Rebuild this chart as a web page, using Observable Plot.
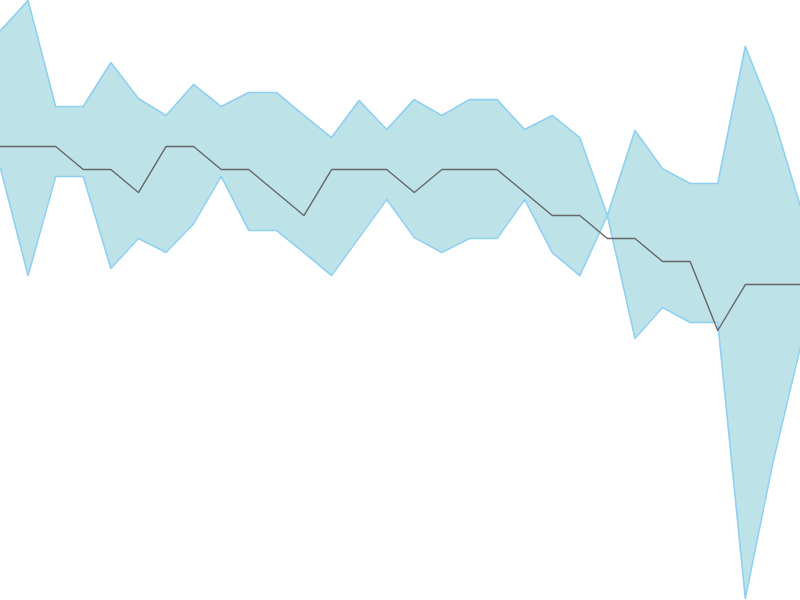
<!DOCTYPE html>
<html>
<head>
<meta charset="utf-8">
<script src="https://cdn.jsdelivr.net/npm/d3@7"></script>
<script src="https://cdn.jsdelivr.net/npm/@observablehq/plot@0.6"></script>
<style>
  html, body { margin: 0; padding: 0; background: #fff; }
  #chart svg { display: block; }
</style>
</head>
<body>
<div id="chart"></div>
<script>
const upper = [25.04, 26.35, 21.74, 21.74, 23.65, 22.09, 21.35, 22.70, 21.74, 22.35,
               22.35, 21.35, 20.39, 22.00, 20.74, 22.04, 21.35, 22.04, 22.04, 20.74,
               21.35, 20.39, 17.00, 20.70, 19.04, 18.39, 18.39, 24.35, 21.35, 17.39];
const lower = [19.04, 14.39, 18.70, 18.70, 14.70, 16.00, 15.39, 16.65, 18.70, 16.35,
               16.35, 15.39, 14.39, 16.04, 17.70, 16.04, 15.39, 16.00, 16.00, 17.70,
               15.39, 14.39, 17.00, 11.65, 13.00, 12.35, 12.35, 0.35, 6.26, 11.30];
const middle = [20, 20, 20, 19, 19, 18, 20, 20, 19, 19,
                18, 17, 19, 19, 19, 18, 19, 19, 19, 18,
                17, 17, 16, 16, 15, 15, 12, 14, 14, 14];

const data = upper.map((u, i) => ({i, upper: u, lower: lower[i], middle: middle[i]}));

const chart = Plot.plot({
  width: 800,
  height: 600,
  margin: 0,
  x: {domain: [0, data.length - 1], axis: null},
  y: {domain: [0.26, 26.35], axis: null},
  marks: [
    Plot.areaY(data, {x: "i", y1: "lower", y2: "upper", fill: "#bde3e8"}),
    Plot.lineY(data, {x: "i", y: "upper", stroke: "#8fd0f2", strokeWidth: 1.6}),
    Plot.lineY(data, {x: "i", y: "lower", stroke: "#8fd0f2", strokeWidth: 1.6}),
    Plot.lineY(data, {x: "i", y: "middle", stroke: "#666666", strokeWidth: 1.4})
  ]
});
document.getElementById("chart").appendChild(chart);
</script>
</body>
</html>
